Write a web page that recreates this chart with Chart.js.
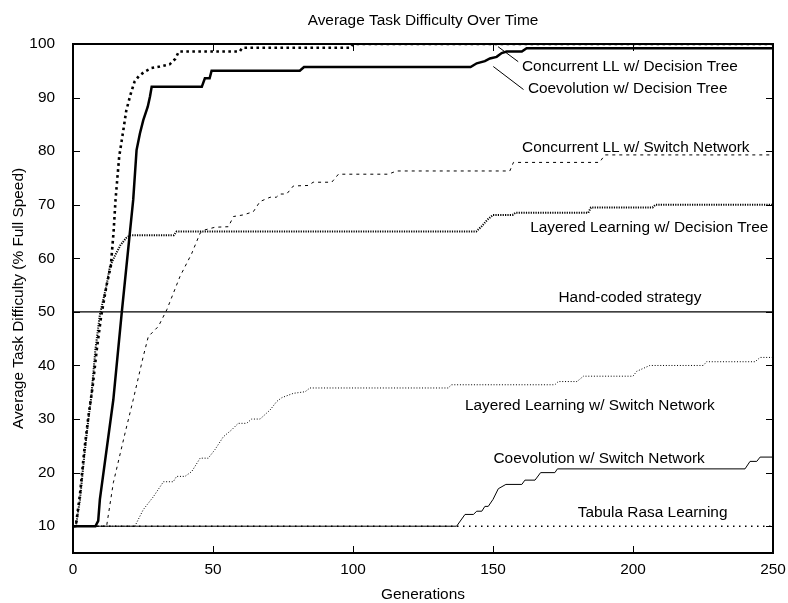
<!DOCTYPE html>
<html>
<head>
<meta charset="utf-8">
<script src="https://cdn.jsdelivr.net/npm/chart.js@4.4.0/dist/chart.umd.min.js"></script>
<style>
  html, body { margin: 0; padding: 0; background: #fff; }
  #wrap { width: 788px; height: 603px; }
</style>
</head>
<body>
<div id="wrap"><canvas id="grafica"></canvas></div>
<script>
// ejes
const xTicks = [0, 50, 100, 150, 200, 250];
const yTicks = [10, 20, 30, 40, 50, 60, 70, 80, 90, 100];

// Concurrent LL w/ Decision Tree
const concDTGen = [0, 1, 2.5, 4, 5.5, 7, 8.5, 10, 12, 13.5, 14.5, 15.2, 16.5, 18, 19, 20.5, 22, 23.5, 25.5, 28, 31, 34.5, 36.5, 37.8, 59.5, 60.5, 99, 100, 250];
const concDTVal = [10, 10, 16, 24, 30.5, 36, 43, 49, 55, 58.5, 65, 71, 79, 84, 87.5, 90.5, 93, 94, 94.8, 95.5, 95.8, 96.2, 97.2, 98.6, 98.6, 99.3, 99.3, 100, 100];

// Coevolution w/ Decision Tree
const coevDTGen = [0, 8, 9, 9.6, 14.4, 17.4, 21.5, 22.7, 23.9, 25.1, 26.7, 27.5, 28.1, 46, 47.1, 48.8, 49.5, 81, 82.5, 142, 144.2, 147.1, 148.9, 151.3, 153.1, 154.9, 160.3, 162, 250];
const coevDTVal = [10, 10, 11, 15, 33.6, 49.8, 70.9, 80.2, 83.3, 85.8, 88.3, 90.2, 92, 92, 93.6, 93.6, 95, 95, 95.7, 95.7, 96.4, 96.8, 97.3, 97.6, 98.3, 98.6, 98.6, 99.2, 99.2];

// Concurrent LL w/ Switch Network
const concSNGen = [0, 11, 12, 14.4, 18.6, 21.5, 25.1, 26.9, 30.5, 33.5, 38.2, 42.4, 45.4, 47.1, 50.7, 55.5, 57.3, 60.8, 64.4, 66.8, 70.4, 72.6, 73.9, 76.3, 78.7, 84, 85.8, 92.4, 94.8, 112.6, 115.6, 156, 157.3, 188, 190, 250];
const concSNVal = [10, 10, 10, 18.1, 27.4, 33.6, 41.7, 45.4, 47.3, 50.4, 56.6, 60.9, 64.7, 65.3, 65.8, 65.9, 67.8, 68.1, 68.7, 70.6, 71.4, 71.4, 72, 72, 73.5, 73.6, 74.2, 74.2, 75.7, 75.7, 76.3, 76.3, 77.9, 77.9, 79.3, 79.3];

// Layered Learning w/ Decision Tree
const layDTGen = [0, 1, 2.5, 4, 5.5, 6.5, 8, 9.6, 12, 13.2, 15, 17, 19, 20.4, 36, 37, 144, 146, 148, 150, 157, 158, 184, 185, 207, 208, 250];
const layDTVal = [10, 10, 15, 23, 30, 34, 43, 49.5, 55, 58.5, 60.5, 62.5, 63.8, 64.3, 64.3, 65, 65, 66, 67.2, 68.1, 68.1, 68.5, 68.5, 69.5, 69.5, 70, 70];

// Hand-coded strategy
const handGen = [0, 250];
const handVal = [50, 50];

// Layered Learning w/ Switch Network
const laySNGen = [0, 22.1, 25.1, 28.7, 32.3, 35.8, 37, 40, 42.4, 45.4, 48.3, 50.7, 53.7, 56.7, 59, 62, 63.8, 66.8, 70.4, 72.8, 74.6, 78.7, 82.9, 84.6, 134, 135.2, 172.1, 173.3, 180, 182.3, 200, 201.3, 206, 225.1, 226.3, 243.6, 245.4, 250];
const laySNVal = [10, 10, 13.1, 15.5, 18.3, 18.3, 19.3, 19.3, 20.2, 22.7, 22.7, 24.3, 26.7, 28, 29.2, 29.2, 30, 30, 31.7, 33.3, 34, 34.8, 35.1, 35.8, 35.8, 36.4, 36.4, 37, 37, 38, 38, 38.9, 40, 40, 40.7, 40.7, 41.5, 41.5];

// Coevolution w/ Switch Network
const coevSNGen = [0, 137, 140, 143, 144.2, 146, 147.1, 148.3, 150, 151.9, 154.6, 160.3, 161.4, 165, 167, 172.1, 173, 240, 241.8, 244.2, 245.4, 250];
const coevSNVal = [10, 10, 12.2, 12.2, 12.8, 12.8, 13.7, 13.7, 15, 17, 17.8, 17.8, 18.6, 18.6, 20, 20, 20.7, 20.7, 22.1, 22.1, 22.9, 22.9];

// Tabula Rasa Learning
const tabulaGen = [0, 250];
const tabulaVal = [10, 10];

const FONT = '"Liberation Sans", Arial, Helvetica, sans-serif';
Chart.defaults.font.family = FONT;
Chart.defaults.font.size = 15.4;
Chart.defaults.color = "#000";

function puntos(gen, val) {
    return gen.map((g, i) => ({ x: g, y: val[i] }));
}

function serie(label, gen, val, ancho, dash) {
    return {
        label: label,
        data: puntos(gen, val),
        borderColor: "#000",
        borderWidth: ancho,
        borderDash: dash,
        borderCapStyle: "butt",
        borderJoinStyle: "miter",
        pointRadius: 0,
        fill: false,
        tension: 0
    };
}

// etiquetas dentro del grafico (posicion en coordenadas de datos)
const etiquetas = [
    { text: "Concurrent LL w/ Decision Tree", x: 198.9, y: 95.0, from: [151.8, 99.5], to: [159.0, 96.7] },
    { text: "Coevolution w/ Decision Tree", x: 198.1, y: 90.8, from: [150.1, 95.8], to: [160.9, 91.5] },
    { text: "Concurrent LL w/ Switch Network", x: 201.0, y: 79.9 },
    { text: "Layered Learning w/ Decision Tree", x: 205.8, y: 64.97 },
    { text: "Hand-coded strategy", x: 198.9, y: 51.9 },
    { text: "Layered Learning w/ Switch Network", x: 184.6, y: 31.6 },
    { text: "Coevolution w/ Switch Network", x: 187.9, y: 21.75 },
    { text: "Tabula Rasa Learning", x: 207.0, y: 11.78 }
];

const marco = {
    id: "marco",
    afterDatasetsDraw(chart) {
        const { ctx, chartArea: a, scales: { x, y } } = chart;
        ctx.save();
        ctx.strokeStyle = "#000";
        ctx.lineWidth = 1;
        ctx.beginPath();
        xTicks.forEach(v => {
            const px = Math.round(x.getPixelForValue(v)) + 0.5;
            ctx.moveTo(px, a.bottom); ctx.lineTo(px, a.bottom - 7);
            ctx.moveTo(px, a.top); ctx.lineTo(px, a.top + 7);
        });
        yTicks.forEach(v => {
            const py = Math.round(y.getPixelForValue(v)) + 0.5;
            ctx.moveTo(a.left, py); ctx.lineTo(a.left + 7, py);
            ctx.moveTo(a.right, py); ctx.lineTo(a.right - 7, py);
        });
        ctx.stroke();

        // lineas guia de las etiquetas
        ctx.beginPath();
        etiquetas.forEach(e => {
            if (!e.from) return;
            ctx.moveTo(x.getPixelForValue(e.from[0]), y.getPixelForValue(e.from[1]));
            ctx.lineTo(x.getPixelForValue(e.to[0]), y.getPixelForValue(e.to[1]));
        });
        ctx.stroke();

        ctx.lineWidth = 2;
        ctx.strokeRect(a.left, a.top, a.right - a.left, a.bottom - a.top);

        ctx.fillStyle = "#000";
        ctx.font = "15.4px " + FONT;
        ctx.textAlign = "center";
        ctx.textBaseline = "alphabetic";
        etiquetas.forEach(e => {
            ctx.fillText(e.text, x.getPixelForValue(e.x), y.getPixelForValue(e.y));
        });

        // titulo
        ctx.fillText("Average Task Difficulty Over Time", (a.left + a.right) / 2, 25);
        ctx.restore();
    }
};

const ctx = document.getElementById("grafica").getContext("2d");
new Chart(ctx, {
    type: "line",
    data: {
        datasets: [
            serie("Concurrent LL w/ Decision Tree", concDTGen, concDTVal, 2.6, [2.6, 3.4]),
            serie("Coevolution w/ Decision Tree", coevDTGen, coevDTVal, 2.5, []),
            serie("Concurrent LL w/ Switch Network", concSNGen, concSNVal, 1, [3, 4]),
            serie("Layered Learning w/ Decision Tree", layDTGen, layDTVal, 2, [1.2, 1.2]),
            serie("Hand-coded strategy", handGen, handVal, 1.2, []),
            serie("Layered Learning w/ Switch Network", laySNGen, laySNVal, 1, [1, 1.8]),
            serie("Coevolution w/ Switch Network", coevSNGen, coevSNVal, 1, []),
            serie("Tabula Rasa Learning", tabulaGen, tabulaVal, 1.5, [1.5, 4.5])
        ]
    },
    options: {
        responsive: true,
        maintainAspectRatio: false,
        animation: false,
        layout: { padding: { top: 44, right: 15, left: 0, bottom: 0 } },
        plugins: {
            legend: { display: false },
            tooltip: { enabled: false },
            title: { display: false }
        },
        scales: {
            x: {
                type: "linear",
                min: 0,
                max: 250,
                grid: { display: false },
                border: { display: false },
                ticks: { padding: 0, maxRotation: 0 },
                afterBuildTicks: s => { s.ticks = xTicks.map(v => ({ value: v })); },
                afterFit: s => { s.height = 50; s.paddingLeft = 0; s.paddingRight = 0; },
                title: { display: true, text: "Generations", padding: { top: 0, bottom: -1 } }
            },
            y: {
                type: "linear",
                min: 5,
                max: 100,
                grid: { display: false },
                border: { display: false },
                ticks: { padding: 10 },
                afterBuildTicks: s => { s.ticks = yTicks.map(v => ({ value: v })); },
                afterFit: s => { s.width = 73; s.paddingTop = 0; s.paddingBottom = 0; },
                title: { display: true, text: "Average Task Difficulty (% Full Speed)", padding: { top: 10, bottom: 0 } }
            }
        }
    },
    plugins: [marco]
});
</script>
</body>
</html>
